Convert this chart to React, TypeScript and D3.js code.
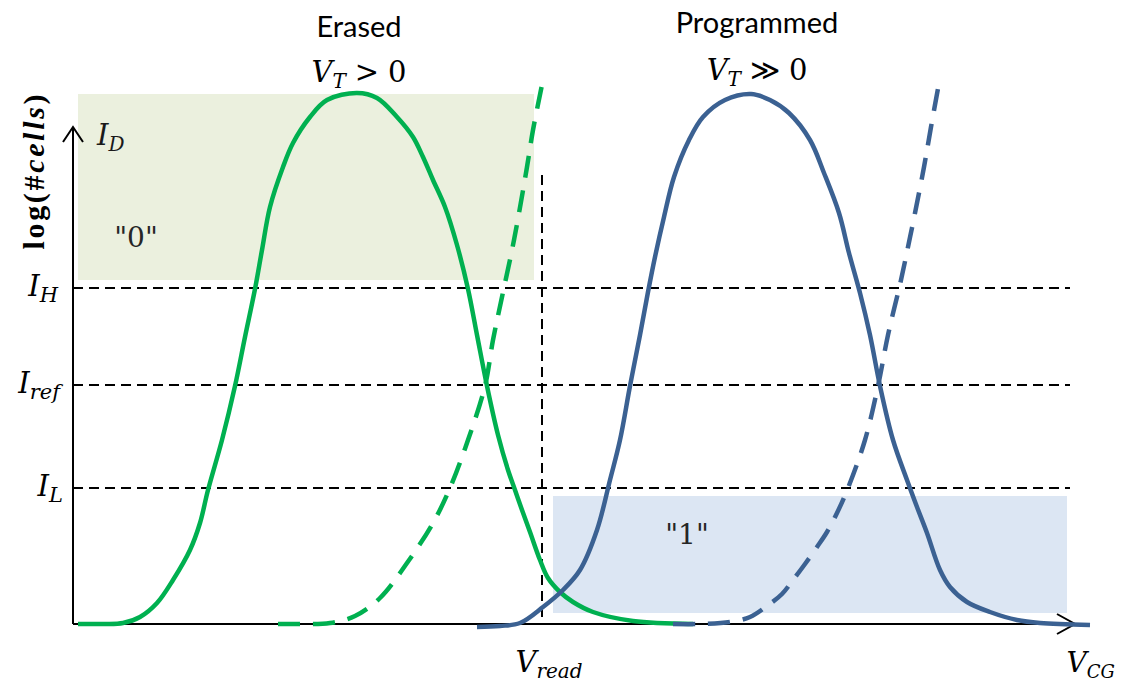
import React from "react";
import * as d3 from "d3";

// Flash cell read-out: threshold distributions (log #cells) and I_D–V_CG
// characteristics for erased and programmed cells, in arbitrary units.

type Pt = [number, number];

// Erased-state cell count distribution (V_CG, log #cells)
const erasedDistribution: Pt[] = [
  [5, 0], [17, 0], [32, 0], [50, 1], [67, 7], [84, 21], [100, 44], [117, 74],
  [127, 101], [135, 134], [149, 184], [162, 238], [172, 287], [182, 335],
  [189, 374], [197, 417], [210, 457], [220, 481], [237, 507], [254, 524],
  [284, 531], [304, 526], [324, 507], [340, 487], [350, 467], [360, 444],
  [372, 417], [384, 379], [395, 335], [404, 289], [414, 238], [425, 189],
  [435, 154], [442, 134], [449, 114], [457, 92], [467, 64], [475, 46],
  [487, 32], [500, 22], [520, 12], [560, 3], [620, 0],
];

// Erased-cell drain current vs gate voltage
const erasedCurrent: Pt[] = [
  [205, 0], [227, 0], [257, 1], [282, 8], [307, 26], [334, 61], [360, 101],
  [377, 136], [395, 184], [412, 238], [420, 284], [429, 327], [441, 384],
  [454, 457], [460, 494], [470, 544],
];

// Programmed-state cell count distribution
const programmedDistribution: Pt[] = [
  [404, -3], [427, -2], [447, 1], [470, 17], [490, 34], [507, 54], [524, 94],
  [537, 144], [547, 184], [557, 238], [567, 289], [575, 332], [582, 367],
  [591, 407], [601, 447], [616, 484], [630, 507], [652, 524], [678, 530],
  [697, 524], [716, 511], [737, 484], [751, 451], [766, 411], [776, 371],
  [787, 331], [797, 289], [807, 238], [820, 184], [834, 144], [844, 117],
  [854, 91], [867, 54], [877, 37], [894, 22], [917, 12], [944, 4], [967, 1],
  [1017, -1],
];

// Programmed-cell drain current vs gate voltage
const programmedCurrent: Pt[] = [
  [600, 0], [627, 0], [657, 2], [677, 7], [694, 18], [709, 30], [720, 44],
  [732, 60], [744, 77], [754, 92], [764, 111], [775, 136], [792, 184],
  [805, 238], [815, 289], [828, 344], [835, 377], [842, 411], [851, 457],
  [858, 497], [866, 541],
];

// Sense current thresholds
const levelNames = ["H", "ref", "L"];
const levelValues = [336, 239, 136];

// Read voltage
const vRead = 469;
const vReadTop = 449;

// Read-out regions: [x0, x1, y0, y1] and their bit value
const bandLabels = ['"0"', '"1"'];
const bandExtents: [number, number, number, number][] = [
  [5, 461, 344, 530],
  [480, 994, 11, 128],
];
const bandLabelAt: Pt[] = [
  [63, 377],
  [614, 80],
];

const stateTitles = ["Erased", "Programmed"];
const stateRelations = [">", "\u226B"];
const stateCenters = [286, 684];

const W = 1122;
const H = 682;
const GREEN = "#00B050";
const BLUE = "#3B6192";
const BAND_FILLS = ["#EBF0DE", "#DCE6F3"];
const MATH = "'DejaVu Serif', serif";
const SANS = "Lato, 'Open Sans', sans-serif";

export default function App() {
  const x = d3.scaleLinear().domain([0, 1002]).range([73, 1075]);
  const y = d3.scaleLinear().domain([0, 500]).range([624, 124]);

  const line = d3
    .line<Pt>()
    .x((d) => x(d[0]))
    .y((d) => y(d[1]))
    .curve(d3.curveCatmullRom.alpha(0.5));

  const x0 = x(0);
  const y0 = y(0);
  const xEnd = x(1002);
  const yTop = y(497);

  return (
    <svg
      width={W}
      height={H}
      style={{ position: "absolute", left: 0, top: 0, background: "#fff" }}
    >
      {/* state regions */}
      {bandExtents.map((b, i) => (
        <rect
          key={"band" + i}
          x={x(b[0])}
          y={y(b[3])}
          width={x(b[1]) - x(b[0])}
          height={y(b[2]) - y(b[3])}
          fill={BAND_FILLS[i]}
        />
      ))}
      {bandLabels.map((t, i) => (
        <text
          key={"bl" + i}
          x={x(bandLabelAt[i][0])}
          y={y(bandLabelAt[i][1])}
          textAnchor="middle"
          fontFamily={MATH}
          fontSize={28}
          fill="#262626"
        >
          {t}
        </text>
      ))}

      {/* current thresholds */}
      {levelValues.map((v, i) => (
        <line
          key={"lvl" + i}
          x1={x0}
          x2={x(997)}
          y1={y(v)}
          y2={y(v)}
          stroke="#000"
          strokeWidth={2}
          strokeDasharray="10 6"
        />
      ))}
      {levelValues.map((v, i) => (
        <text
          key={"lvlt" + i}
          x={[58, 60, 63][i]}
          y={y(v) + 8}
          textAnchor="end"
          fontFamily={MATH}
          fontSize={29}
          fill="#000"
        >
          <tspan fontStyle="italic">I</tspan>
          <tspan fontStyle="italic" fontSize={21} dy={6}>
            {levelNames[i]}
          </tspan>
        </text>
      ))}

      {/* read voltage */}
      <line
        x1={x(vRead)}
        x2={x(vRead)}
        y1={y(vReadTop)}
        y2={y0}
        stroke="#000"
        strokeWidth={2}
        strokeDasharray="10 6"
      />

      {/* axes */}
      <line x1={x0} x2={x0} y1={y0} y2={yTop} stroke="#000" strokeWidth={2} />
      <polyline
        points={`${x0 - 10},${yTop + 15} ${x0},${yTop} ${x0 + 10},${yTop + 15}`}
        fill="none"
        stroke="#000"
        strokeWidth={2}
      />
      <line x1={x0} x2={xEnd} y1={y0} y2={y0} stroke="#000" strokeWidth={2} />
      <polyline
        points={`${xEnd - 18},${y0 - 10} ${xEnd},${y0} ${xEnd - 18},${y0 + 10}`}
        fill="none"
        stroke="#000"
        strokeWidth={2}
      />

      {/* curves */}
      <path d={line(erasedDistribution) || ""} fill="none" stroke={GREEN} strokeWidth={4.5} strokeLinejoin="round" />
      <path d={line(erasedCurrent) || ""} fill="none" stroke={GREEN} strokeWidth={4.5} strokeDasharray="22 13" />
      <path d={line(programmedDistribution) || ""} fill="none" stroke={BLUE} strokeWidth={4.5} strokeLinejoin="round" />
      <path d={line(programmedCurrent) || ""} fill="none" stroke={BLUE} strokeWidth={4.5} strokeDasharray="22 13" />

      {/* state titles */}
      {stateTitles.map((t, i) => (
        <g key={"st" + i}>
          <text
            x={x(stateCenters[i])}
            y={i === 0 ? 37 : 33}
            textAnchor="middle"
            fontFamily={SANS}
            fontSize={29}
            fill="#000"
          >
            {t}
          </text>
          <text
            x={x(stateCenters[i])}
            y={i === 0 ? 82 : 80}
            textAnchor="middle"
            fontFamily={MATH}
            fontSize={29}
            fill="#000"
          >
            <tspan fontStyle="italic">V</tspan>
            <tspan fontStyle="italic" fontSize={20} dy={6}>T</tspan>
            <tspan dy={-6} dx={9}>{stateRelations[i]}</tspan>
            <tspan dx={9}>0</tspan>
          </text>
        </g>
      ))}

      {/* axis labels */}
      <text x={97} y={145} fontFamily={MATH} fontSize={29} fill="#1a1a1a">
        <tspan fontStyle="italic">I</tspan>
        <tspan fontStyle="italic" fontSize={20} dy={6}>D</tspan>
      </text>
      <text
        x={x(vRead) + 7}
        y={672}
        textAnchor="middle"
        fontFamily={MATH}
        fontSize={29}
        fill="#000"
      >
        <tspan fontStyle="italic">V</tspan>
        <tspan fontStyle="italic" fontSize={20} dy={6}>read</tspan>
      </text>
      <text x={1115} y={672} textAnchor="end" fontFamily={MATH} fontSize={28} fill="#000">
        <tspan fontStyle="italic">V</tspan>
        <tspan fontStyle="italic" fontSize={18} dy={6}>CG</tspan>
      </text>
      <text
        transform="translate(44,172) rotate(-90)"
        textAnchor="middle"
        fontFamily="'Liberation Serif', serif"
        fontWeight="bold"
        fontSize={30}
        textLength={155}
        lengthAdjust="spacing"
        fill="#000"
      >
        log(#<tspan fontStyle="italic">cells</tspan>)
      </text>
    </svg>
  );
}
